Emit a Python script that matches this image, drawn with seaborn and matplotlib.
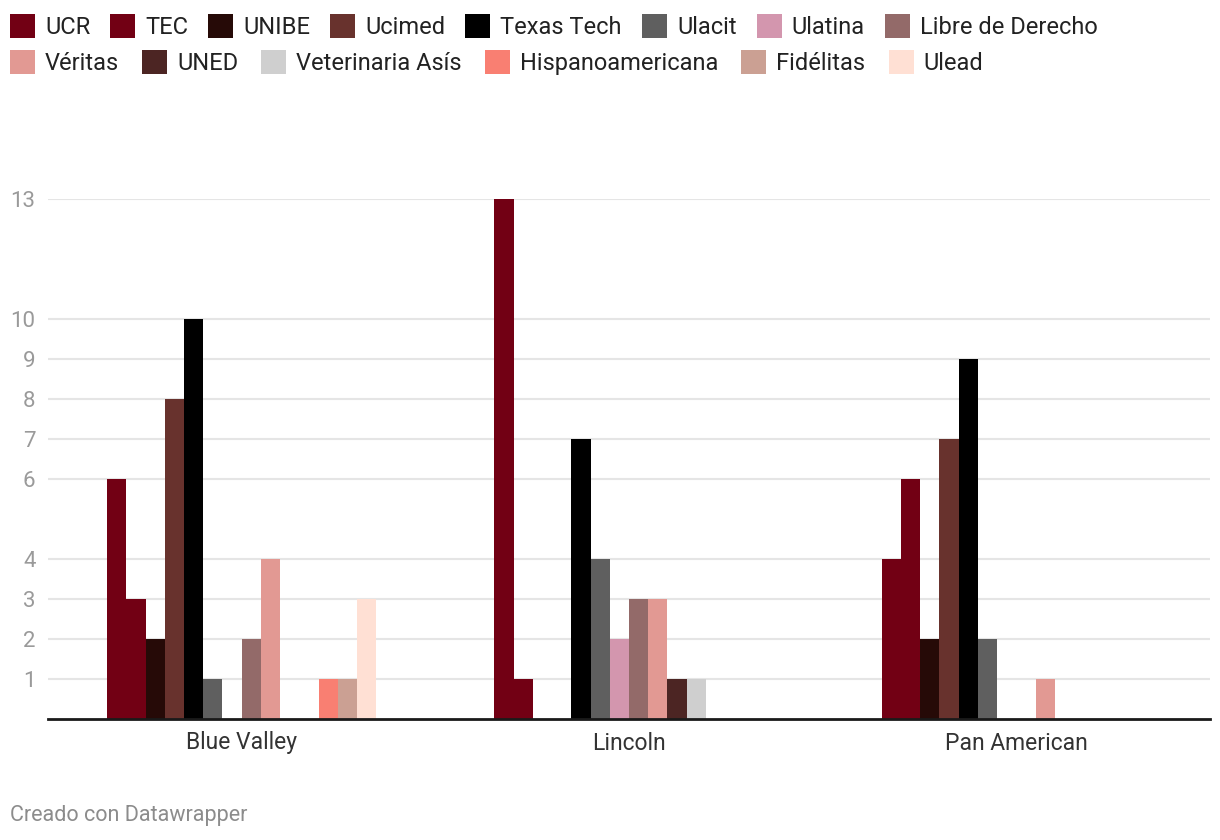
import numpy as np
import pandas as pd
import matplotlib
matplotlib.use("Agg")
import matplotlib.pyplot as plt
import seaborn as sns

# ==========================================================
# DATA
# ==========================================================

schools = ["Blue Valley", "Lincoln", "Pan American"]
universities = ["UCR", "TEC", "UNIBE", "Ucimed", "Texas Tech", "Ulacit", "Ulatina",
                "Libre de Derecho", "Véritas", "UNED", "Veterinaria Asís",
                "Hispanoamericana", "Fidélitas", "Ulead"]

blue_valley = [6, 3, 2, 8, 10, 1, 0, 2, 4, 0, 0, 1, 1, 3]
lincoln = [13, 1, 0, 0, 7, 4, 2, 3, 3, 1, 1, 0, 0, 0]
pan_american = [4, 6, 2, 7, 9, 2, 0, 0, 1, 0, 0, 0, 0, 0]

y_ticks = [1, 2, 3, 4, 6, 7, 8, 9, 10, 13]

colors = ["#720014", "#720014", "#260a07", "#68322d", "#000000", "#5f5f5f", "#d396ae",
          "#936a69", "#e29993", "#4c2523", "#cfcfcf", "#f97f72", "#cba093", "#ffe0d4"]

rows = []
for school, vals in zip(schools, [blue_valley, lincoln, pan_american]):
    for uni, v in zip(universities, vals):
        rows.append({"school": school, "uni": uni, "count": v})
df = pd.DataFrame(rows)

# ==========================================================
# PLOT
# ==========================================================

sns.set_theme(style="white")
plt.rcParams["font.family"] = ["Roboto", "DejaVu Sans"]

fig = plt.figure(figsize=(12.2, 8.4), dpi=100)
ax = fig.add_axes([48 / 1220, 1 - 719 / 840, (1210 - 48) / 1220, (719 - 199) / 840])

sns.barplot(data=df, x="school", y="count", hue="uni", hue_order=universities,
            palette=colors, width=0.695, gap=0, saturation=1, linewidth=0,
            errorbar=None, ax=ax, legend=True)

ax.set_xlim(-0.5, 2.5)
ax.set_ylim(0, 13)
ax.set_yticks(y_ticks)
ax.yaxis.grid(True, color="#e5e5e5", linewidth=1.5)
ax.set_axisbelow(True)
for s in ["top", "right", "left"]:
    ax.spines[s].set_visible(False)
ax.spines["bottom"].set_color("#1a1a1a")
ax.spines["bottom"].set_linewidth(2)
ax.tick_params(axis="y", length=0, pad=9, labelsize=16, labelcolor="#9a9a9a")
ax.tick_params(axis="x", length=0, pad=9, labelsize=16.5, labelcolor="#333333")
ax.set_xlabel("")
ax.set_ylabel("")

handles, labels = ax.get_legend_handles_labels()
ax.get_legend().remove()

leg_kw = dict(loc="upper left", frameon=False, fontsize=17, handlelength=1.06,
              handleheight=1.19, handletextpad=0.42,
              borderpad=0, borderaxespad=0, labelcolor="#222222")
leg1 = fig.legend(handles[:8], labels[:8], ncol=8, columnspacing=0.85,
                  bbox_to_anchor=(10 / 1220, 1 - 14 / 840), **leg_kw)
leg2 = fig.legend(handles[8:], labels[8:], ncol=6, columnspacing=0.98,
                  bbox_to_anchor=(10 / 1220, 1 - 50 / 840), **leg_kw)

fig.text(10 / 1220, 1 - 815 / 840, "Creado con Datawrapper", fontsize=15.5,
         color="#8c8c8c", va="center", ha="left")

fig.savefig("out.png", dpi=100, facecolor="white")
